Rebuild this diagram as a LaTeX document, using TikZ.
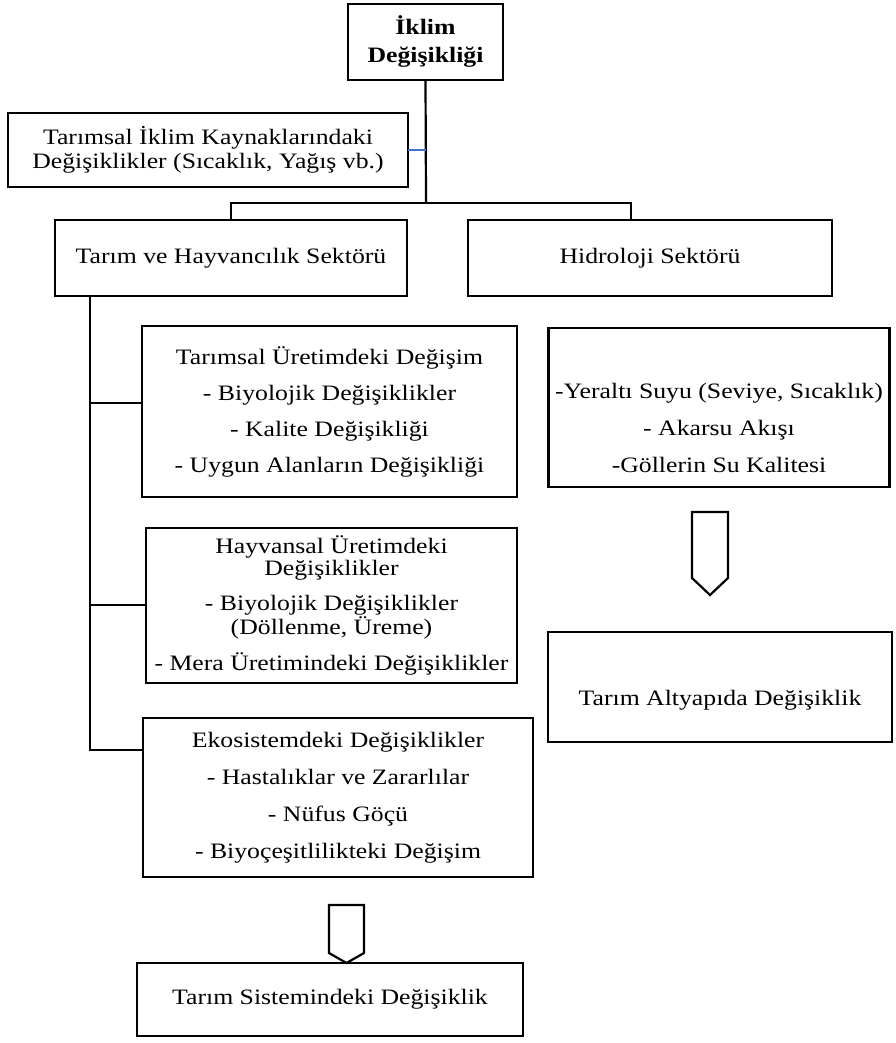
\documentclass[tikz,border=0pt]{standalone}
\usepackage{fontspec}
\setmainfont{Liberation Serif}[FakeStretch=1.17]
\usetikzlibrary{calc}
\definecolor{wordblue}{RGB}{68,114,196}
\begin{document}
\begin{tikzpicture}[x=1pt,y=-1pt,
  box/.style={draw, line width=2.2pt, inner sep=0pt, outer sep=0pt, align=center, font=\fontsize{22}{22}\selectfont},
  txt/.style={inner sep=0pt, align=center, font=\fontsize{22}{22}\selectfont},
  conn/.style={line width=2.2pt},
  blueconn/.style={line width=1.5pt, draw=wordblue},
  arrowshape/.style={line width=2.2pt, line join=miter}]
\useasboundingbox (0,0) rectangle (895,1043);

\node[box, minimum width=155pt, minimum height=76pt, font=\bfseries\fontsize{22}{28}\selectfont] (top) at (425.5,42) {İklim\\Değişikliği};
\node[box, minimum width=400pt, minimum height=74pt] (kayn) at (208,150) {Tarımsal İklim Kaynaklarındaki\\[2pt]Değişiklikler (Sıcaklık, Yağış vb.)};
\node[box, minimum width=352pt, minimum height=76pt] (tarim) at (231,258) {Tarım ve Hayvancılık Sektörü};
\node[box, minimum width=364pt, minimum height=76pt] (hidro) at (650,258) {Hidroloji Sektörü};

\node[box, minimum width=375pt, minimum height=171pt] (b1) at (329.5,411.5) {Tarımsal Üretimdeki Değişim\\[14pt]- Biyolojik Değişiklikler\\[14pt]- Kalite Değişikliği\\[14pt]- Uygun Alanların Değişikliği};
\node[box, minimum width=371pt, minimum height=155pt] (b2) at (331.5,605.5) {Hayvansal Üretimdeki\\Değişiklikler\\[13pt]- Biyolojik Değişiklikler\\(Döllenme, Üreme)\\[13pt]- Mera Üretimindeki Değişiklikler};
\node[box, minimum width=390pt, minimum height=159pt] (b3) at (338,797.5) {Ekosistemdeki Değişiklikler\\[15pt]- Hastalıklar ve Zararlılar\\[15pt]- Nüfus Göçü\\[15pt]- Biyoçeşitlilikteki Değişim};
\node[box, minimum width=386pt, minimum height=73pt] (bot) at (330,999.5) {Tarım Sistemindeki Değişiklik};

\node[box, minimum width=341pt, minimum height=159pt] (r1) at (719,407.5) {};
\node[txt] (r1t) at (719,428) {-Yeraltı Suyu (Seviye, Sıcaklık)\\[15pt]- Akarsu Akışı\\[15pt]-Göllerin Su Kalitesi};
\node[box, minimum width=344pt, minimum height=110pt] (r2) at (720,687) {};
\node[txt] (r2t) at (720,700) {Tarım Altyapıda Değişiklik};

% connectors
\coordinate (j) at (426,203);
\coordinate (hj) at (631,220);
\draw[conn] (top.south) -- (j);
\draw[conn] (tarim.north) |- (hj |- j) -- (hj);
\draw[blueconn] (kayn.east) -- (kayn.east -| j);

\coordinate (lv) at (90,296);
\coordinate (k1) at (90,403);
\coordinate (k2) at (90,605);
\coordinate (k3) at (90,750);
\draw[conn] (lv) -- (k3) -- (b3.west |- k3);
\draw[conn] (k1) -- (b1.west |- k1);
\draw[conn] (k2) -- (b2.west |- k2);

% block arrows
\draw[arrowshape] (329,905) -- (364,905) -- (364,953) -- (bot.north -| 346.5,0) -- (329,953) -- cycle;
\draw[arrowshape] (692,512) -- (728,512) -- (728,578) -- (710,595) -- (692,578) -- cycle;
\end{tikzpicture}
\end{document}
